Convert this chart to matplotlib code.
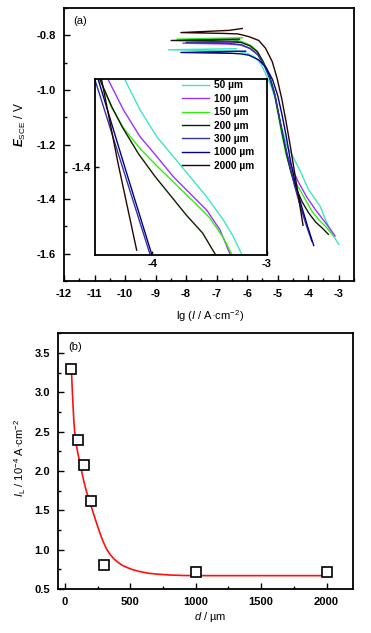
import matplotlib
matplotlib.use("Agg")
import matplotlib.pyplot as plt
from matplotlib.ticker import FixedLocator, MultipleLocator

plt.rcParams['font.family'] = ['Liberation Sans', 'DejaVu Sans']
plt.rcParams['mathtext.fontset'] = 'custom'
plt.rcParams['mathtext.rm'] = 'Liberation Sans'
plt.rcParams['mathtext.it'] = 'Liberation Sans:italic'
plt.rcParams['mathtext.bf'] = 'Liberation Sans:italic:bold'

# ---------------- data: panel (a) main polarization curves ----------------
labels = ['50 µm', '100 µm', '150 µm', '200 µm', '300 µm', '1000 µm', '2000 µm']
colors = ['#3FE6C6', '#9933FF', '#33EE11', '#0D1F00', '#34349E', '#000088', '#2A0303']

x50 = [-6.35, -8.58, -6.7, -6.3, -6.0, -5.75, -5.55, -5.40, -5.22, -5.06, -4.90, -4.69, -4.53, -4.26, -3.99, -3.61, -3.44, -3.23, -3.00]
E50 = [-0.849, -0.853, -0.857, -0.858, -0.866, -0.880, -0.905, -0.940, -0.985, -1.036, -1.127, -1.207, -1.237, -1.298, -1.365, -1.426, -1.474, -1.523, -1.566]
x100 = [-6.25, -8.11, -6.6, -6.2, -5.9, -5.65, -5.47, -5.27, -5.10, -4.97, -4.84, -4.70, -4.52, -4.31, -4.05, -3.77, -3.55, -3.39, -3.12]
E100 = [-0.825, -0.829, -0.832, -0.836, -0.849, -0.870, -0.903, -0.950, -1.015, -1.090, -1.165, -1.235, -1.290, -1.340, -1.392, -1.438, -1.470, -1.493, -1.535]
x150 = [-6.15, -8.30, -6.5, -6.2, -5.9, -5.68, -5.5, -5.29, -5.12, -5.00, -4.87, -4.72, -4.55, -4.37, -4.10, -3.88, -3.65, -3.44, -3.17]
E150 = [-0.809, -0.814, -0.817, -0.822, -0.836, -0.857, -0.892, -0.940, -1.005, -1.080, -1.160, -1.240, -1.300, -1.347, -1.400, -1.444, -1.476, -1.499, -1.535]
x200 = [-6.25, -8.49, -6.6, -6.2, -5.9, -5.66, -5.48, -5.27, -5.10, -4.97, -4.83, -4.69, -4.57, -4.42, -4.20, -3.99, -3.75, -3.55, -3.34]
E200 = [-0.814, -0.819, -0.822, -0.826, -0.839, -0.861, -0.896, -0.948, -1.015, -1.090, -1.170, -1.245, -1.300, -1.353, -1.410, -1.450, -1.485, -1.505, -1.529]
x300 = [-6.3, -8.0, -6.6, -6.2, -5.9, -5.65, -5.44, -5.25, -5.07, -4.93, -4.78, -4.62, -4.45, -4.25, -4.05, -3.88]
E300 = [-0.822, -0.826, -0.830, -0.834, -0.848, -0.872, -0.910, -0.962, -1.030, -1.110, -1.190, -1.270, -1.350, -1.430, -1.500, -1.555]
x1000 = [-6.05, -8.17, -6.5, -6.2, -5.94, -5.62, -5.38, -5.17, -5.00, -4.86, -4.72, -4.59, -4.42, -4.22, -4.02, -3.82]
E1000 = [-0.858, -0.863, -0.866, -0.868, -0.873, -0.890, -0.918, -0.962, -1.020, -1.090, -1.170, -1.255, -1.345, -1.425, -1.500, -1.570]
x2000 = [-6.16, -6.6, -8.17, -6.8, -6.3, -5.94, -5.62, -5.40, -5.18, -5.02, -4.86, -4.72, -4.58, -4.45, -4.32, -4.17]
E2000 = [-0.775, -0.782, -0.790, -0.793, -0.795, -0.805, -0.819, -0.847, -0.896, -0.957, -1.036, -1.120, -1.210, -1.300, -1.390, -1.496]

# ---------------- data: inset (zoom of limiting region) ----------------
ix50 = [-4.238, -4.107, -3.961, -3.816, -3.67, -3.524, -3.38, -3.292, -3.219]
iE50 = [-1.202, -1.27, -1.331, -1.376, -1.422, -1.468, -1.52, -1.558, -1.598]
ix100 = [-4.384, -4.252, -4.107, -3.961, -3.816, -3.67, -3.524, -3.408, -3.32]
iE100 = [-1.202, -1.27, -1.331, -1.376, -1.422, -1.46, -1.498, -1.543, -1.598]
ix150 = [-4.456, -4.36, -4.25, -4.10, -3.95, -3.80, -3.65, -3.50, -3.38, -3.306]
iE150 = [-1.202, -1.262, -1.312, -1.36, -1.40, -1.438, -1.476, -1.515, -1.56, -1.598]
ix200 = [-4.456, -4.35, -4.26, -4.12, -3.98, -3.84, -3.70, -3.56, -3.45]
iE200 = [-1.202, -1.265, -1.31, -1.37, -1.42, -1.465, -1.51, -1.55, -1.598]
ix300 = [-4.50, -4.26, -4.02]
iE300 = [-1.202, -1.40, -1.598]
ix1000 = [-4.471, -4.24, -4.005]
iE1000 = [-1.202, -1.40, -1.598]
ix2000 = [-4.442, -4.30, -4.136]
iE2000 = [-1.202, -1.39, -1.589]

# ---------------- data: panel (b) ----------------
d_um = [50, 100, 150, 200, 300, 1000, 2000]
IL = [3.30, 2.39, 2.08, 1.62, 0.81, 0.72, 0.72]
fit_d = [50, 56, 62, 68, 75, 87, 100, 114, 128, 145, 165, 188, 213, 236, 260, 288, 318, 350,
         380, 410, 440, 480, 520, 578, 640, 700, 800, 900, 1000, 2000]
fit_IL = [3.30, 3.06, 2.85, 2.66, 2.50, 2.34, 2.22, 2.11, 2.00, 1.87, 1.74, 1.62, 1.49, 1.37,
          1.25, 1.12, 1.01, 0.93, 0.875, 0.835, 0.80, 0.77, 0.745, 0.72, 0.70, 0.69, 0.678,
          0.672, 0.67, 0.67]

main_x = [x50, x100, x150, x200, x300, x1000, x2000]
main_E = [E50, E100, E150, E200, E300, E1000, E2000]
ins_x = [ix50, ix100, ix150, ix200, ix300, ix1000, ix2000]
ins_E = [iE50, iE100, iE150, iE200, iE300, iE1000, iE2000]

W, H = 371, 633
fig = plt.figure(figsize=(W / 100, H / 100), dpi=100)

def box(l, t, r, b):
    return [l / W, 1 - b / H, (r - l) / W, (b - t) / H]

tickfs = 8
spine_lw = 1.3

def style(ax, maj=4, minr=2.2, pad=4):
    for s in ax.spines.values():
        s.set_linewidth(spine_lw)
    ax.tick_params(which='both', direction='in', width=1.0, top=False, right=False,
                   labelsize=tickfs, pad=pad)
    ax.tick_params(which='major', length=maj)
    ax.tick_params(which='minor', length=minr)
    for lab in ax.get_xticklabels() + ax.get_yticklabels():
        lab.set_fontweight('bold')

# ---- panel (a)
axa = fig.add_axes(box(64, 8, 354, 281))
for xs, es, c in zip(main_x, main_E, colors):
    axa.plot(xs, es, color=c, lw=1.0)
axa.set_xlim(-12, -2.5)
axa.set_ylim(-1.7, -0.7)
axa.xaxis.set_major_locator(FixedLocator(list(range(-12, -2))))
axa.xaxis.set_minor_locator(MultipleLocator(0.5))
axa.yaxis.set_major_locator(FixedLocator([-1.6, -1.4, -1.2, -1.0, -0.8]))
axa.yaxis.set_minor_locator(MultipleLocator(0.1))
axa.set_yticklabels(['-1.6', '-1.4', '-1.2', '-1.0', '-0.8'])
axa.set_xticklabels([str(v) for v in range(-12, -2)])
style(axa, pad=6)
axa.text((73 - 64) / 290, 1 - (21 - 8) / 273, '(a)', transform=axa.transAxes,
         fontsize=8, ha='left', va='center')

# ---- inset
axi = fig.add_axes(box(95, 79, 266.7, 255))
axi.set_facecolor('white')
lines = []
for xs, es, c, lab in zip(ins_x, ins_E, colors, labels):
    ln, = axi.plot(xs, es, color=c, lw=1.0, label=lab)
    lines.append(ln)
axi.set_xlim(-4.5, -3.0)
axi.set_ylim(-1.6, -1.2)
axi.xaxis.set_major_locator(FixedLocator([-4, -3]))
axi.yaxis.set_major_locator(FixedLocator([-1.4]))
axi.set_xticklabels(['-4', '-3'])
axi.set_yticklabels(['-1.4'])
style(axi, maj=3, pad=3)
axi.set_zorder(3)

leg = axi.legend(handles=lines, loc='upper left',
                 bbox_to_anchor=(182 / W, 1 - 80.5 / H), bbox_transform=fig.transFigure,
                 frameon=False, fontsize=7.3, handlelength=2.7, handletextpad=0.5,
                 labelspacing=0.33, borderpad=0, borderaxespad=0)
for t in leg.get_texts():
    t.set_fontweight('bold')

fig.text(20 / W, 1 - 125 / H, r'$\mathbf{E}_{\mathrm{SCE}}$ / V', rotation=90,
         ha='center', va='center', fontsize=8.5)
fig.text(210 / W, 1 - 316 / H, r'lg ($\mathit{I}$ / A·cm$^{-2}$)', ha='center', va='center',
         fontsize=8)

# ---- panel (b)
axb = fig.add_axes(box(58.3, 333.3, 352.7, 589))
axb.plot(fit_d, fit_IL, color='#FF1010', lw=1.2, zorder=2)
axb.plot(d_um, IL, ls='none', marker='s', ms=6.5, mfc='white', mec='black', mew=1.2, zorder=3)
axb.set_xlim(-50, 2200)
axb.set_ylim(0.5, 3.75)
axb.xaxis.set_major_locator(FixedLocator([0, 500, 1000, 1500, 2000]))
axb.xaxis.set_minor_locator(MultipleLocator(250))
axb.yaxis.set_major_locator(FixedLocator([0.5, 1.0, 1.5, 2.0, 2.5, 3.0, 3.5]))
axb.yaxis.set_minor_locator(MultipleLocator(0.25))
axb.set_xticklabels(['0', '500', '1000', '1500', '2000'])
axb.set_yticklabels(['0.5', '1.0', '1.5', '2.0', '2.5', '3.0', '3.5'])
style(axb, pad=6)
axb.text((68 - 58.3) / 294.4, 1 - (347 - 333.3) / 255.7, '(b)', transform=axb.transAxes,
         fontsize=8, ha='left', va='center')

fig.text(20 / W, 1 - 458 / H, r'$\mathit{I}_{\mathrm{L}}$ / 10$^{-4}$ A·cm$^{-2}$', rotation=90,
         ha='center', va='center', fontsize=8)
fig.text(210 / W, 1 - 617 / H, r'$\mathit{d}$ / µm', ha='center', va='center', fontsize=8)

fig.savefig('out.png', dpi=100)
